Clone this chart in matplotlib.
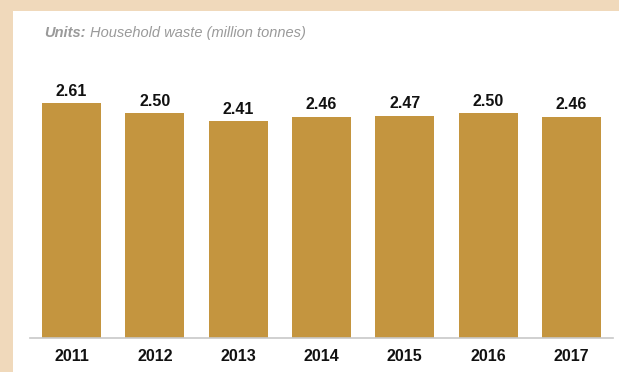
import matplotlib.pyplot as plt

years = ["2011", "2012", "2013", "2014", "2015", "2016", "2017"]
waste = [2.61, 2.50, 2.41, 2.46, 2.47, 2.50, 2.46]

plt.rcParams["font.family"] = ["Liberation Sans", "DejaVu Sans"]

fig = plt.figure(figsize=(6.19, 3.72), dpi=100)
fig.patch.set_facecolor("#f0d9bb")
# white panel inside the beige frame
bg = fig.add_axes([13 / 619, 0, 1 - 13 / 619, 1 - 11 / 372], zorder=-1)
bg.axis("off")
bg.add_patch(plt.Rectangle((0, 0), 1, 1, transform=bg.transAxes,
                           facecolor="white", edgecolor="none"))

ax = fig.add_axes([30 / 619, 34 / 372, 583 / 619, 270 / 372])
ax.set_facecolor("none")
x = range(len(years))
ax.bar(x, waste, width=0.71, color="#c4953f", zorder=2)
for xi, v in zip(x, waste):
    ax.text(xi, v + 0.05, f"{v:.2f}", ha="center", va="bottom",
            fontsize=11.5, fontweight="bold", color="#111111")

ax.set_xlim(-0.5, 6.5)
ax.set_ylim(0, 3)
ax.set_xticks(list(x))
ax.set_xticklabels(years, fontsize=11.5, fontweight="bold", color="#111111")
ax.tick_params(axis="x", length=0, pad=8)
ax.set_yticks([])
for side in ("top", "right", "left"):
    ax.spines[side].set_visible(False)
ax.spines["bottom"].set_color("#c8c8c8")
ax.spines["bottom"].set_linewidth(1.2)

t1 = fig.text(44 / 619, 1 - 33 / 372, "Units:", fontsize=10.5, fontweight="bold",
              style="italic", color="#9a9a9a", va="center")
fig.canvas.draw()
ext = t1.get_window_extent()
fig.text((ext.x1 + 4) / 619, 1 - 33 / 372, "Household waste (million tonnes)",
         fontsize=10.5, style="italic", color="#9a9a9a", va="center")

fig.savefig("out.png", dpi=100)
